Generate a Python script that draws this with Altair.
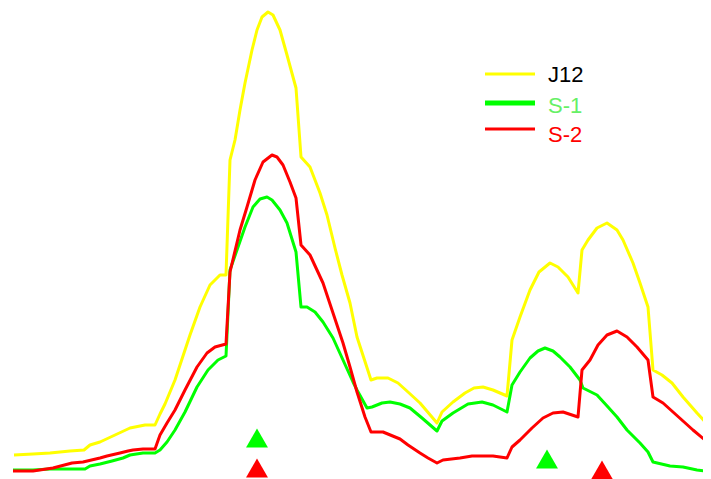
import altair as alt
import pandas as pd

# J12 (yellow)
j12_x = [14, 33, 50, 70, 84, 90, 100, 115, 130, 145, 155, 160, 165, 175, 190, 200, 210, 220, 226,
         230, 235, 240, 245, 252, 257, 262, 268, 273, 280, 287, 296, 301, 310, 320, 327, 335, 342,
         350, 357, 371, 377, 388, 398, 408, 420, 437, 442, 453, 465, 474, 483, 493, 507, 512, 520,
         530, 539, 550, 558, 568, 578, 582, 588, 597, 607, 617, 623, 633, 640, 648, 653, 662, 672,
         683, 697, 711]
j12_y = [24, 25, 26, 28, 29, 34, 37, 44, 51, 54, 54, 65, 75, 99, 144, 172, 194, 204, 204,
         319, 339, 369, 396, 429, 449, 462, 467, 464, 449, 424, 391, 322, 312, 286, 264, 231, 204,
         176, 142, 99, 101, 101, 96, 87, 76, 56, 67, 77, 86, 91, 92, 89, 83, 139, 162,
         189, 207, 216, 212, 202, 186, 229, 239, 251, 256, 249, 239, 216, 196, 172, 109, 104, 96,
         82, 66, 51]

# S-1 (green)
s1_x = [13, 33, 50, 67, 85, 90, 100, 112, 123, 130, 143, 155, 160, 167, 175, 185, 197, 208, 218,
        226, 230, 237, 245, 253, 260, 267, 272, 280, 287, 296, 301, 307, 315, 323, 333, 343, 353,
        357, 367, 372, 382, 390, 400, 410, 422, 437, 442, 453, 468, 482, 493, 507, 512, 520, 530,
        538, 545, 553, 560, 570, 580, 583, 597, 608, 617, 627, 640, 648, 653, 670, 683, 697, 711]
s1_y = [9, 9, 10, 10, 10, 13, 15, 18, 21, 24, 26, 26, 29, 37, 49, 67, 92, 109, 119,
        123, 209, 229, 252, 272, 280, 282, 279, 269, 256, 227, 172, 172, 167, 157, 141, 119, 97,
        89, 71, 72, 76, 77, 75, 71, 61, 48, 58, 66, 75, 77, 74, 67, 94, 107, 121,
        128, 131, 128, 122, 112, 99, 91, 84, 72, 62, 49, 36, 27, 17, 13, 12, 9, 7]

# S-2 (red)
s2_x = [13, 33, 53, 72, 83, 100, 107, 120, 128, 133, 143, 155, 160, 167, 175, 185, 197, 207, 215,
        226, 230, 240, 247, 255, 263, 272, 277, 283, 290, 296, 301, 310, 323, 333, 343, 350, 357,
        365, 371, 383, 400, 408, 420, 428, 437, 443, 460, 472, 493, 507, 512, 520, 532, 543, 553,
        563, 578, 582, 590, 598, 607, 617, 627, 637, 648, 653, 663, 673, 683, 693, 711]
s2_y = [8, 8, 11, 16, 17, 21, 23, 26, 28, 29, 30, 30, 44, 56, 69, 89, 112, 126, 132,
        135, 207, 249, 272, 299, 317, 324, 322, 314, 297, 281, 234, 224, 196, 166, 136, 112, 87,
        62, 47, 47, 40, 34, 26, 21, 16, 19, 21, 23, 23, 21, 32, 39, 51, 61, 66,
        67, 62, 109, 119, 134, 144, 148, 142, 132, 119, 82, 76, 67, 58, 49, 34]

# Triangle markers
mark_series = ["S-1", "S-2", "S-1", "S-2"]
mark_x = [257, 257, 547, 602]
mark_y = [41, 11, 20, 9]

series_names = ["J12", "S-1", "S-2"]
series_colors = ["#ffff00", "#00ff00", "#ff0000"]
legend_text_colors = ["#000000", "#66f066", "#ff0000"]

df_lines = pd.concat([
    pd.DataFrame({"x": j12_x, "y": j12_y, "series": "J12"}),
    pd.DataFrame({"x": s1_x, "y": s1_y, "series": "S-1"}),
    pd.DataFrame({"x": s2_x, "y": s2_y, "series": "S-2"}),
], ignore_index=True)
df_lines["idx"] = range(len(df_lines))

df_marks = pd.DataFrame({"x": mark_x, "y": mark_y, "series": mark_series})

xs = alt.Scale(domain=[8, 703], nice=False, zero=False)
ys = alt.Scale(domain=[0, 471], nice=False, zero=False)
cs = alt.Scale(domain=series_names, range=series_colors)

layers = []
for name in series_names:
    d = df_lines[df_lines["series"] == name]
    layers.append(
        alt.Chart(d).mark_line(strokeWidth=3, clip=False, strokeJoin="round").encode(
            x=alt.X("x:Q", scale=xs, axis=None),
            y=alt.Y("y:Q", scale=ys, axis=None),
            color=alt.Color("series:N", scale=cs, legend=None),
            order="idx:Q",
        )
    )

tri = alt.Chart(df_marks).mark_point(shape="triangle-up", filled=True, size=480, opacity=1, clip=False).encode(
    x=alt.X("x:Q", scale=xs, axis=None),
    y=alt.Y("y:Q", scale=ys, axis=None),
    color=alt.Color("series:N", scale=cs, legend=None),
)
layers.append(tri)

# Manual legend
leg_df = pd.DataFrame({"series": series_names})
rule_y = [66, 95, 121]
rule_w = [3, 5, 3]
text_y = [67, 98, 127]
for i, name in enumerate(series_names):
    sub = leg_df[leg_df["series"] == name]
    layers.append(
        alt.Chart(sub).mark_rule(color=series_colors[i], strokeWidth=rule_w[i], strokeCap="butt").encode(
            x=alt.value(477), x2=alt.value(527), y=alt.value(rule_y[i])
        )
    )
    layers.append(
        alt.Chart(sub).mark_text(align="left", baseline="middle", fontSize=22,
                                 font="Liberation Sans", color=legend_text_colors[i]).encode(
            x=alt.value(540), y=alt.value(text_y[i]), text="series:N"
        )
    )

chart = alt.layer(*layers).properties(
    width=695, height=471, padding=0,
    autosize=alt.AutoSizeParams(type="none"),
).configure(background="white").configure_view(stroke=None, strokeWidth=0)

chart.save("out.html", embed_options={"renderer": "svg", "actions": False})
